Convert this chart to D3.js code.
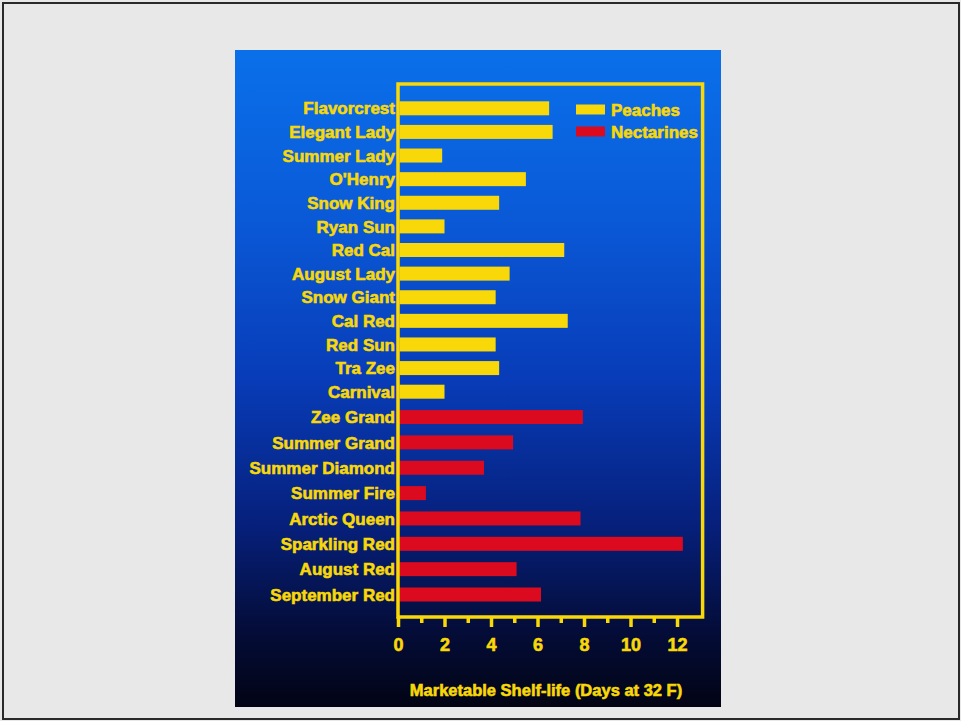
<!DOCTYPE html>
<html>
<head>
<meta charset="utf-8">
<script src="https://cdn.jsdelivr.net/npm/d3@7/dist/d3.min.js"></script>
<style>
  html, body { margin: 0; padding: 0; background: #e8e8e8; }
  svg { display: block; }
  text { font-family: "Liberation Sans", Arial, Helvetica, sans-serif; font-weight: bold; }
</style>
</head>
<body>
<script>
// Peach and nectarine cultivars, top to bottom
const peaches = ["Flavorcrest", "Elegant Lady", "Summer Lady", "O'Henry", "Snow King", "Ryan Sun",
  "Red Cal", "August Lady", "Snow Giant", "Cal Red", "Red Sun", "Tra Zee", "Carnival"];
const peachDays = [6.5, 6.65, 1.9, 5.5, 4.35, 2.0, 7.15, 4.8, 4.2, 7.3, 4.2, 4.35, 2.0];

const nectarines = ["Zee Grand", "Summer Grand", "Summer Diamond", "Summer Fire", "Arctic Queen",
  "Sparkling Red", "August Red", "September Red"];
const nectarineDays = [7.95, 4.95, 3.7, 1.2, 7.85, 12.25, 5.1, 6.15];

const seriesNames = ["Peaches", "Nectarines"];
const seriesColors = ["#f8d808", "#dc0a1e"];
const xTicks = [0, 1, 2, 3, 4, 5, 6, 7, 8, 9, 10, 11, 12];
const xTickLabels = ["0", "2", "4", "6", "8", "10", "12"];
const axisTitle = "Marketable Shelf-life (Days at 32 F)";

const rows = peaches.map((name, i) => ({ name, days: peachDays[i], kind: 0 }))
  .concat(nectarines.map((name, i) => ({ name, days: nectarineDays[i], kind: 1 })));

const W = 961, H = 721;
const svg = d3.select("body").append("svg").attr("width", W).attr("height", H);

// outer page frame
svg.append("rect").attr("x", 3).attr("y", 3).attr("width", W - 5).attr("height", H - 5)
  .attr("fill", "#e8e8e8").attr("stroke", "#2a2a2a").attr("stroke-width", 2);

// slide panel with a blue-to-black vertical gradient
const defs = svg.append("defs");
const grad = defs.append("linearGradient").attr("id", "bg").attr("x1", 0).attr("y1", 0).attr("x2", 0).attr("y2", 1);
[[0, "#0a70ea"], [0.25, "#0a5ad8"], [0.5, "#083cb8"], [0.72, "#06207c"], [0.88, "#040d3a"], [1, "#020414"]]
  .forEach(([o, c]) => grad.append("stop").attr("offset", o).attr("stop-color", c));

const panel = { x: 235, y: 50, w: 486, h: 657 };
svg.append("rect").attr("x", panel.x).attr("y", panel.y).attr("width", panel.w).attr("height", panel.h)
  .attr("fill", "url(#bg)");

const yellow = seriesColors[0];

// scales
const x = d3.scaleLinear().domain([0, 13.1]).range([398, 702.6]);
// row centres: peaches are spaced a little tighter than nectarines
const yIdx = d3.scaleLinear().domain([0, peaches.length - 1, rows.length - 1]).range([108.3, 391.7, 594.5]);
const barH = 14;

const g = svg.append("g");

// bars
g.selectAll("rect.bar").data(rows).join("rect")
  .attr("class", "bar")
  .attr("x", x(0) + 1.5)
  .attr("y", (d, i) => yIdx(i) - barH / 2)
  .attr("width", d => x(d.days) - x(0) - 1.5)
  .attr("height", barH)
  .attr("fill", d => seriesColors[d.kind]);

// heavy yellow lettering
function heavy(sel, size) {
  return sel.attr("fill", yellow).attr("stroke", yellow).attr("stroke-width", 0.6)
    .attr("font-size", size);
}

// category labels
heavy(g.selectAll("text.cat").data(rows).join("text"), 17)
  .attr("class", "cat")
  .attr("x", x(0) - 3)
  .attr("y", (d, i) => yIdx(i))
  .attr("dy", "0.36em")
  .attr("text-anchor", "end")
  .text(d => d.name);

// plot frame
const frameTop = 84, frameBottom = 617;
g.append("rect")
  .attr("x", x(0)).attr("y", frameTop)
  .attr("width", x(13.1) - x(0)).attr("height", frameBottom - frameTop)
  .attr("fill", "none").attr("stroke", yellow).attr("stroke-width", 3.5);

// x axis ticks below the frame
const axis = d3.axisBottom(x)
  .tickValues(xTicks)
  .tickSize(0)
  .tickFormat("");
const axG = g.append("g").attr("transform", `translate(0,${frameBottom})`).call(axis);
axG.select(".domain").remove();
axG.selectAll(".tick line").remove();
axG.selectAll(".tick").append("line")
  .attr("y1", 0)
  .attr("y2", d => d % 2 === 0 ? 10 : 6)
  .attr("stroke", yellow).attr("stroke-width", 3.5);
heavy(axG.selectAll(".tick").filter(d => d % 2 === 0).append("text"), 18)
  .attr("y", 28)
  .attr("dy", "0.36em")
  .attr("text-anchor", "middle")
  .text(d => xTickLabels[d / 2]);

// axis title
heavy(g.append("text"), 16.5)
  .attr("x", 546).attr("y", 690).attr("dy", "0.36em")
  .attr("text-anchor", "middle")
  .text(axisTitle);

// legend
const leg = g.selectAll("g.leg").data(seriesNames).join("g")
  .attr("class", "leg")
  .attr("transform", (d, i) => `translate(576,${109.5 + i * 22})`);
leg.append("rect").attr("x", 0).attr("y", -5).attr("width", 29).attr("height", 10)
  .attr("fill", (d, i) => seriesColors[i]);
heavy(leg.append("text"), 17).attr("x", 35).attr("dy", "0.36em").text(d => d);
</script>
</body>
</html>
